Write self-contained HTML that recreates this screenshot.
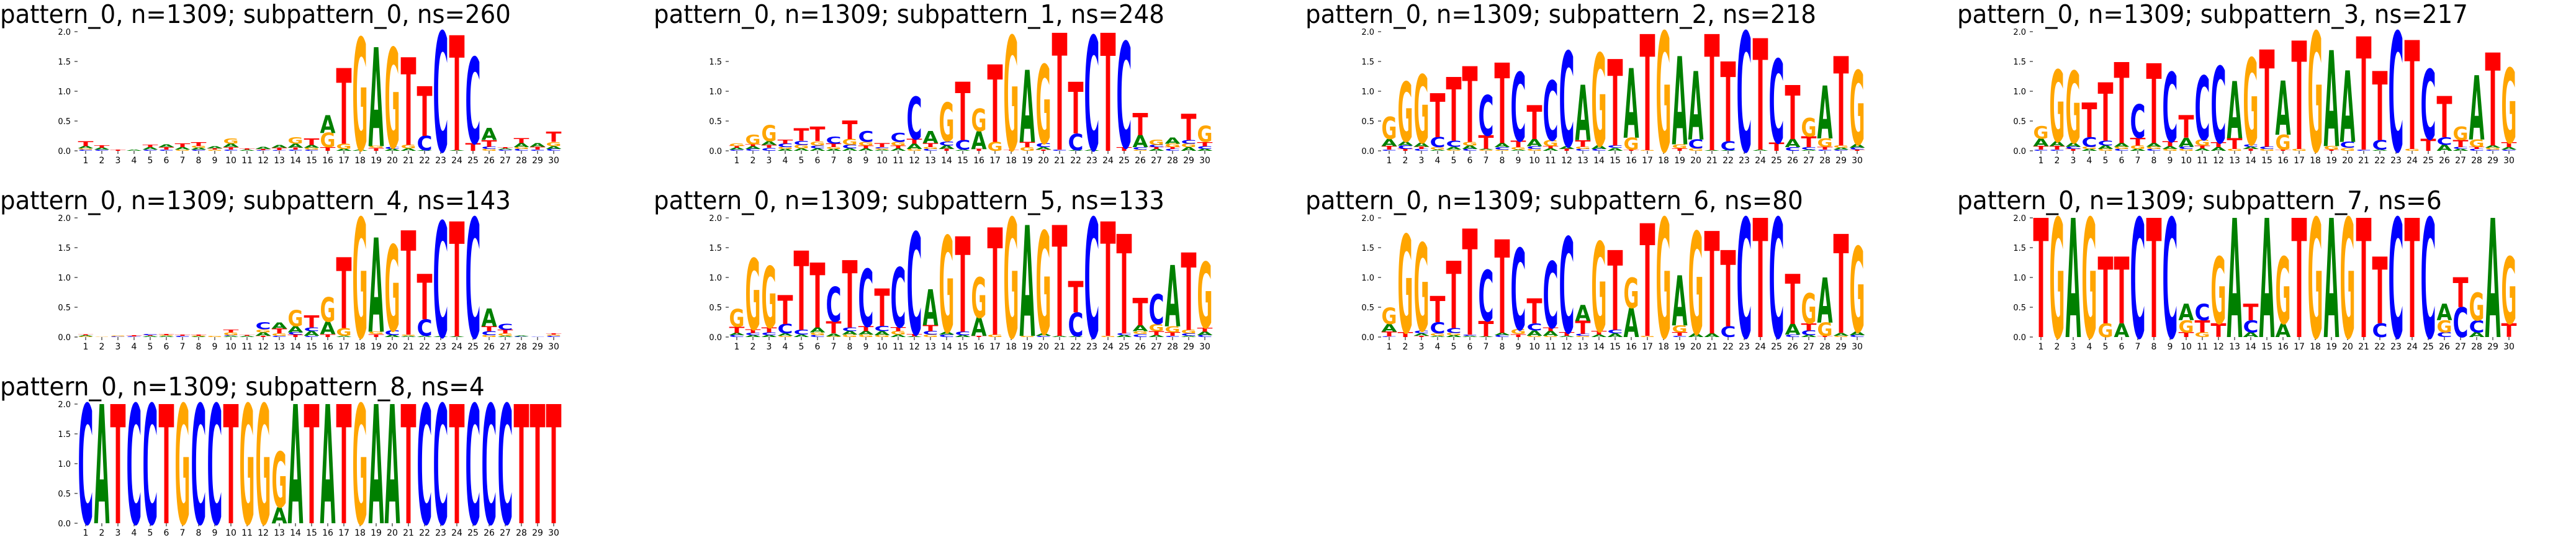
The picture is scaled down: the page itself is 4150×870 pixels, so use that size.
<!DOCTYPE html>
<html><head><meta charset="utf-8"><style>
html,body{margin:0;padding:0;background:#fff;width:4150px;height:870px;overflow:hidden}
svg{display:block}
</style></head><body>
<svg id="chart" width="4150" height="870" viewBox="0 0 4150 870" xmlns="http://www.w3.org/2000/svg"></svg>
<script>
// ---- data ----
const positions = [1,2,3,4,5,6,7,8,9,10,11,12,13,14,15,16,17,18,19,20,21,22,23,24,25,26,27,28,29,30];
const subpatterns = ["subpattern_0","subpattern_1","subpattern_2","subpattern_3","subpattern_4","subpattern_5","subpattern_6","subpattern_7","subpattern_8"];
const subpatternCounts = [260,248,218,217,143,133,80,6,4];
const yTicks0 = [0,0.5,1.0,1.5,2.0];
const yTicks1 = [0,0.5,1.0,1.5];
// each column: letter+height, bottom to top
const logo0 = ["C.02 G.02 A.04 T.08","C.02 A.03 T.04","T.02","A.02","C.02 A.04 T.04","C.02 T.04 A.05","G.02 A.04 T.06","C.02 A.03 G.03 T.07","G.02 T.02 A.03","C.02 T.04 A.06 G.09","A.02 T.02","C.01 T.02 A.03","C.01 T.04 A.05","C.02 T.03 A.07 G.11","C.02 G.03 A.05 T.11","T.06 G.24 A.3","A.03 G.09 T1.27","A.02 G1.88","T.05 G.03 A1.66","A.03 C.03 G1.67","A.04 G.06 T1.47","A.01 C.24 T.83","C2.0","A.01 T1.93","T.13 C1.44","G.03 C.04 T.11 A.2","C.02 A.02 T.02","C.03 G.03 A.07 T.08","C.02 T.05 A.06","C.03 A.05 G.07 T.17"];
const logo1 = ["C.02 A.03 T.03 G.05","C.03 A.05 T.03 G.16","C.05 T.05 A.06 G.27","A.03 G.03 C.06 T.07","A.04 G.06 C.07 T.21","A.04 C.05 G.07 T.24","A.03 G.03 T.06 C.12","A.04 C.06 G.1 T.31","A.04 T.05 G.06 C.18","A.02 G.02 C.02 T.07","A.04 T.05 G.06 C.15","G.03 A.09 T.08 C.71","C.03 G.03 T.07 A.2","T.03 A.06 C.07 G.65","A.02 C.16 T.98","T.03 A.3 G.38","G.15 T1.3","T.02 G1.91","G.06 T.09 A1.21","T.02 A.04 C.07 G1.32","C.02 T1.96","A.01 C.28 T.87","A.02 C1.91","T1.98","T.06 C1.77","G.02 C.04 A.2 T.37","A.03 T.03 C.04 G.09","C.03 T.03 G.06 A.1","A.06 G.06 C.06 T.44","A.03 C.05 T.07 G.27"];
const logo2 = ["C.02 T.06 A.12 G.37","T.03 C.06 A.07 G1.0","C.03 T.04 A.07 G1.14","A.02 G.04 C.17 T.74","G.02 A.05 C.1 T1.07","C.03 A.06 G.06 T1.27","G.02 A.01 T.23 C.68","G.02 C.04 A.07 T1.35","A.02 G.04 T.11 C1.15","G.03 C.05 A.12 T.57","A.04 T.04 G.1 C1.0","T.03 A.05 C1.59","C.03 G.04 T.11 A.93","C.03 A.06 G1.55","A.05 C.04 T1.45","T.02 G.2 A1.17","G.01 T1.95","G2.0","T.04 G.07 A1.48","G.04 C.15 A1.15","A.01 T1.95","A.01 C.15 T1.34","C2.0","A.02 T1.87","T.14 C1.4","C.06 A.14 T.91","A.02 C.04 T.18 G.31","C.02 T.05 G.14 A.89","C.02 A.03 G.04 T1.5","T.02 C.03 A.06 G1.24"];
const logo3 = ["C.02 T.06 A.13 G.21","C.02 T.06 A.08 G1.2","T.03 C.04 A.07 G1.2","A.03 G.04 C.16 T.58","G.03 A.06 C.08 T.98","C.03 G.04 A.06 T1.36","A.03 G.06 T.13 C.56","C.03 G.04 A.06 T1.34","G.03 A.05 T.08 C1.16","G.03 C.04 A.15 T.38","A.04 T.05 G.1 C1.07","A.06 T.08 C1.28","G.03 T.18 A.96","T.03 A.04 C.04 G1.45","G.03 C.04 T1.63","T.02 G.25 A.91","G.03 T1.82","G2.0","T.02 G.06 A1.61","G.05 C.1 A1.2","C.02 T1.9","A.02 C.16 T1.16","C2.0","G.03 T1.83","T.2 C1.17","A.1 C.13 T.69","A.03 C.03 T.12 G.22","C.03 T.03 G.13 A1.08","C.02 G.03 A.04 T1.56","C.02 A.04 T.08 G1.25"];
const logo4 = ["G.01 A.02 T.01","G.005","C.01 G.01","C.01 T.02","A.02 T.01 C.02","A.02 G.01 T.02","C.02 T.02","A.01 G.01 T.02","G.02","A.02 C.01 G.05 T.05","A.02 T.01","T.02 A.06 G.05 C.12","C.02 G.04 T.08 A.1","T.04 C.04 A.1 G.27","C.02 A.08 C.06 T.2","T.05 A.21 G.41","A.02 G.13 T1.19","G2.0","T.05 G.04 A1.58","A.03 C.08 G1.44","A.02 G.02 T1.75","A.02 C.28 T.76","A.01 C1.93","A.01 T1.93","C2.0","G.03 C.07 T.08 A.3","A.02 G.04 T.06 C.1","C.01 A.01","C.005","C.02 G.02 T.02"];
const logo5 = ["C.03 A.04 T.1 G.3","A.03 C.04 T.06 G1.19","A.03 C.05 T.08 G1.03","G.02 A.04 C.16 T.49","A.04 C.08 T1.33","C.03 G.05 A.08 T1.09","G.01 A.05 T.2 C.58","G.04 A.06 C.06 T1.13","G.04 A.06 T.08 C.96","G.03 A.07 C.09 T.63","A.04 G.06 T.07 C1.0","A.01 T.04 C1.71","G.04 C.06 T.1 A.6","C.04 A.05 G1.61","A.03 C.06 T1.6","T.02 A.31 G.68","G.04 T1.8","G2.0","G.02 A1.86","C.02 A.04 G1.72","A.02 T1.86","A.01 C.4 T.53","C2.0","G.02 T1.92","A.03 C.03 T1.67","C.05 G.05 A.1 T.46","A.03 T.07 G.12 C.5","C.02 T.06 G.1 A1.03","A.02 C.04 G.06 T1.3","C.03 A.06 T.07 G1.1"];
const logo6 = ["C.01 T.08 A.13 G.28","T.08 G1.64","T.02 A.04 C.05 G1.47","A.02 G.04 C.19 T.44","A.03 G.04 C.08 T1.13","A.02 C.02 T1.78","A.01 T.26 C.85","C.03 A.04 T1.57","T.05 G.08 C1.36","G.02 A.09 C.12 T.42","G.02 A.08 T.06 C1.11","A.02 T.06 C1.6","G.02 C.03 T.22 A.27","A.04 T.06 G1.5","A.06 C.06 T1.34","A.49 G.51","G.02 T1.89","G2.0","C.02 T.06 G.12 A.84","A.06 G1.71","A.06 T1.72","C.18 T1.28","C2.0","T2.0","C2.0","C.04 A.18 T.84","A.03 C.08 T.12 G.51","T.02 G.22 A.76","G.02 A.05 T1.66","C.03 A.06 G1.43"];
const logo7 = ["T2.0","G2.0","A2.0","G2.0","G.23 T1.12","A.23 T1.12","C2.0","T2.0","C2.0","T.08 G.2 A.28","G.08 T.2 C.28","T.23 G1.12","A2.0","A.08 C.2 T.28","A2.0","A.23 G1.12","T2.0","G2.0","A2.0","G2.0","T2.0","C.23 T1.12","C2.0","T2.0","C2.0","C.08 G.2 A.28","C.5 T.5","A.08 C.2 G.47","A2.0","T.23 G1.12"];
const logo8 = ["C2.0","A2.0","T2.0","C2.0","C2.0","T2.0","G2.0","C2.0","C2.0","T2.0","G2.0","G2.0","A.27 G.93","A2.0","T2.0","A2.0","T2.0","G2.0","A2.0","A2.0","T2.0","C2.0","C2.0","T2.0","C2.0","C2.0","C2.0","T2.0","T2.0","T2.0"];
const logos = [logo0,logo1,logo2,logo3,logo4,logo5,logo6,logo7,logo8];

// ---- layout (not data) ----
const NS = "http://www.w3.org/2000/svg";
const svg = document.getElementById('chart');
const colTitleX = [0,1053,2103,3153];
const colPos1 = [138,1187,2238,3288];
const colStep = [26,26,26,26];
const rowY0 = [243,543,843];
const rowUnit = 96;
const rowTitleY = [37,337,637];
const colors = {A:"#008000",C:"#0000ff",G:"#ffa500",T:"#ff0000"};

function mk(tag, attrs, parent){
  const e = document.createElementNS(NS, tag);
  for (const k in attrs) e.setAttribute(k, attrs[k]);
  parent.appendChild(e);
  return e;
}

logos.forEach((cols, p) => {
  const r = Math.floor(p/4), c = p%4;
  const g = mk('g', {}, svg);
  
  
  const x1 = colPos1[c], step = colStep[c], y0 = rowY0[r];
  const xs = i => x1 + i*step;
  const ys = v => y0 - v*rowUnit;
  // title
  const titleStr = 'pattern_0, n=1309; ' + subpatterns[p] + ', ns=' + subpatternCounts[p];
  const t = mk('text', {x: colTitleX[c], y: rowTitleY[r], 'font-family': '"DejaVu Sans","Liberation Sans",sans-serif', 'font-size': 41, fill: '#000', textLength: (titleStr.length*21.1).toFixed(1), lengthAdjust: 'spacingAndGlyphs'}, g);
  t.textContent = titleStr;
  
  
  // y axis
  const axL = x1 - step/2;
  const ticks = (p === 1 || p === 5) ? (p===1 ? yTicks1 : yTicks0) : yTicks0;
  ticks.forEach(v => {
    mk('line', {x1: axL-5, x2: axL, y1: ys(v), y2: ys(v), stroke: '#000', 'stroke-width': 1}, g);
    const lt = mk('text', {x: axL-11, y: ys(v)+5, 'text-anchor': 'end', 'font-family': '"DejaVu Sans","Liberation Sans",sans-serif', 'font-size': 13, fill: '#000'}, g);
    lt.textContent = v.toFixed(1);
    
    
  });
  // x axis
  positions.forEach((pos, i) => {
    mk('line', {x1: xs(i), x2: xs(i), y1: y0, y2: y0+5, stroke: '#000', 'stroke-width': 1}, g);
    const xt = mk('text', {x: xs(i), y: y0+20, 'text-anchor': 'middle', 'font-family': '"DejaVu Sans","Liberation Sans",sans-serif', 'font-size': 14, fill: '#000'}, g);
    xt.textContent = String(pos);
    
    
  });
  // letters
  cols.forEach((colStr, i) => {
    let base = 0;
    colStr.trim().split(/\s+/).forEach(tok => {
      const L = tok[0], h = parseFloat(tok.slice(1));
      if (!(h > 0)) return;
      const w = step - 1;
      const xl = xs(i) - w/2;
      const yb = ys(base);
      const sy = (h*rowUnit)/72.9;
      const lt = mk('text', {x: 0, y: 0, transform: 'translate(' + xl.toFixed(2) + ',' + yb.toFixed(2) + ') scale(1,' + sy.toFixed(4) + ')', 'font-family': '"DejaVu Sans","Liberation Sans",sans-serif', 'font-weight': 'bold', 'font-size': 100, fill: colors[L], textLength: w, lengthAdjust: 'spacingAndGlyphs'}, g);
      lt.textContent = L;
      
      
      base += h;
    });
  });
});
</script>
</body></html>
